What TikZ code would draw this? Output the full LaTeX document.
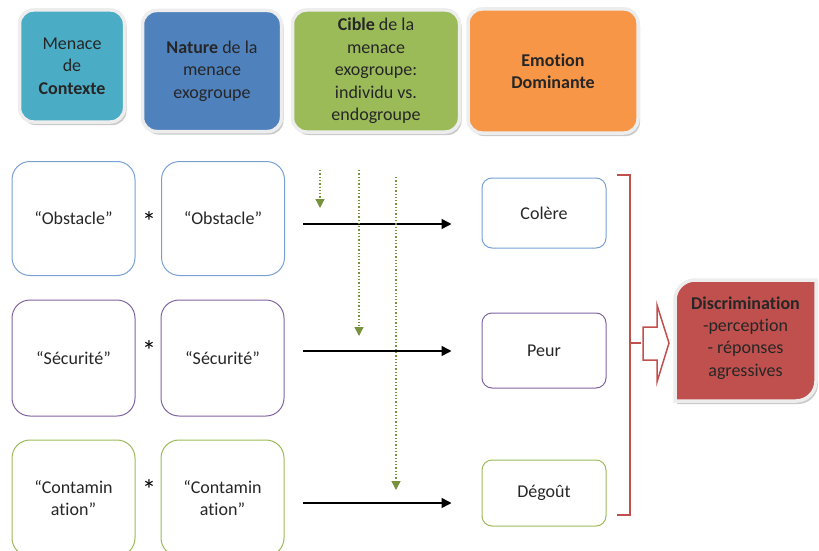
\documentclass[tikz,border=0pt]{standalone}
\usepackage{fontspec}
\setmainfont{Carlito}[Ligatures={TeX,NoCommon}]
\usetikzlibrary{shadows, arrows.meta}

\definecolor{tealhead}{RGB}{75,172,198}
\definecolor{bluehead}{RGB}{79,129,189}
\definecolor{greenhead}{RGB}{155,187,89}
\definecolor{orangehead}{RGB}{247,150,70}
\definecolor{redhead}{RGB}{192,80,77}
\definecolor{rowblue}{RGB}{120,160,212}
\definecolor{rowpurple}{RGB}{128,100,162}
\definecolor{rowgreen}{RGB}{155,187,89}
\definecolor{dotgreen}{RGB}{118,146,60}

\begin{document}
\begin{tikzpicture}[x=1pt, y=-1pt,
        every node/.style={font=\fontsize{18}{22.4}\selectfont, align=center, text=black!85},
        head/.style={rounded corners=14pt, draw=white!93!black, line width=3.5pt,
            drop shadow={shadow xshift=2pt, shadow yshift=-3pt, opacity=0.35, fill=black!60}},
        rowbox/.style={rounded corners=18pt, draw, line width=1pt, minimum width=123pt, minimum height=114pt},
        emobox/.style={rounded corners=10pt, draw, line width=1pt, minimum width=124pt},
        times/.style={anchor=base, font=\fontsize{28}{28}\selectfont, text=black},
        flow/.style={-{Triangle[length=10pt, width=10pt]}, line width=1.5pt, black},
        target/.style={dotgreen, dotted, line width=1.3pt, -{Triangle[length=9pt, width=9pt]}}]
        \useasboundingbox (0,0) rectangle (819,551);

        % column headers
        \node[head, fill=tealhead, minimum width=105pt, minimum height=112pt] (ctx) at (72,66) {Menace\\de\\\textbf{Contexte}};
        \node[head, fill=bluehead, minimum width=139pt, minimum height=121pt] (nat) at (212,71) {\textbf{Nature} de la\\menace\\exogroupe};
        \node[head, fill=greenhead, minimum width=167pt, minimum height=122pt] (cib) at (376,71) {\textbf{Cible} de la\\menace\\exogroupe:\\individu vs.\\endogroupe};
        \node[head, fill=orangehead, minimum width=170pt, minimum height=124pt] (emo) at (553,71) {\textbf{Emotion}\\\textbf{Dominante}};

        % threat boxes
        \node[rowbox, draw=rowblue] (obsA) at (73.5,218.5) {“Obstacle”};
        \node[rowbox, draw=rowblue] (obsB) at (223,218.5) {“Obstacle”};
        \node[rowbox, draw=rowpurple, minimum height=116pt] (secA) at (73.5,358) {“Sécurité”};
        \node[rowbox, draw=rowpurple, minimum height=116pt] (secB) at (222.5,358) {“Sécurité”};
        \node[rowbox, draw=rowgreen, minimum height=116pt] (conA) at (73.5,498) {“Contamin\\ation”};
        \node[rowbox, draw=rowgreen, minimum height=116pt] (conB) at (222.5,498) {“Contamin\\ation”};

        \node[times] (x1) at (149,231) {*};
        \node[times] (x2) at (149,360) {*};
        \node[times] (x3) at (149,499) {*};

        % emotions
        \node[emobox, draw=rowblue, minimum height=70pt] (col) at (544,213) {Colère};
        \node[emobox, draw=rowpurple, minimum height=75pt] (peur) at (544,350.5) {Peur};
        \node[emobox, draw=rowgreen, minimum height=66pt] (deg) at (544,493) {Dégoût};

        \coordinate (f1) at (303,224);
        \coordinate (f2) at (303,351);
        \coordinate (f3) at (303,503);
        \draw[flow, shorten >=30pt] (f1) -- (f1 -| col.west);
        \draw[flow, shorten >=30pt] (f2) -- (f2 -| peur.west);
        \draw[flow, shorten >=30pt] (f3) -- (f3 -| deg.west);

        % target of the threat
        \coordinate (t1a) at (320,170);
        \coordinate (t1b) at (320,208);
        \coordinate (t2a) at (359,170);
        \coordinate (t2b) at (359,336);
        \coordinate (t3a) at (396,177);
        \coordinate (t3b) at (396,490);
        \draw[target] (t1a) -- (t1b);
        \draw[target] (t2a) -- (t2b);
        \draw[target] (t3a) -- (t3b);

        % bracket and outcome
        \draw[redhead, line width=2.5pt] (617,175) -- (630,175) -- (630,515) -- (617,515)
            (630,343) -- (641,343);
        \draw[redhead, line width=1.5pt, fill=white] (643,327) -- (657,327) -- (657,305) -- (669,343)
            -- (657,382) -- (657,360) -- (643,360) -- cycle;
        \path[fill=redhead, draw=white!93!black, line width=3.5pt,
            drop shadow={shadow xshift=2pt, shadow yshift=-3pt, opacity=0.35, fill=black!60}]
            (675,401) -- (675,300) arc[start angle=180, end angle=270, radius=20]
            -- (816,280) -- (816,381) arc[start angle=0, end angle=90, radius=20] -- cycle;
        \node (disc) at (745.5,338) {\textbf{Discrimination}\\-perception\\- réponses\\agressives};
    \end{tikzpicture}
\end{document}
